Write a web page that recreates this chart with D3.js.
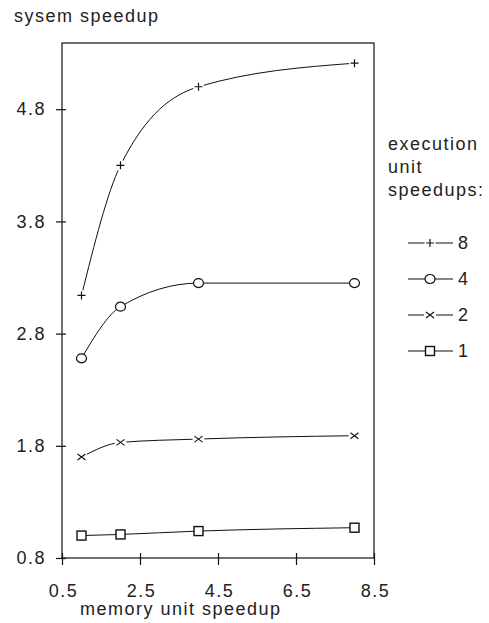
<!DOCTYPE html>
<html>
<head>
<meta charset="utf-8">
<script src="https://cdn.jsdelivr.net/npm/d3@7"></script>
<style>
  html, body { margin: 0; padding: 0; background: #fff; }
  svg { display: block; }
  text { font-family: "Liberation Sans", Arial, sans-serif; font-size: 18px; fill: #222; letter-spacing: 1.5px; }
</style>
</head>
<body>
<svg id="chart" width="489" height="623"></svg>
<script>
// ---- data ----
const memorySpeedups = [1, 2, 4, 8];
const seriesNames = ["8", "4", "2", "1"];
const speedup8 = [3.14, 4.30, 5.00, 5.21];
const speedup4 = [2.58, 3.04, 3.25, 3.25];
const speedup2 = [1.70, 1.83, 1.86, 1.89];
const speedup1 = [1.00, 1.01, 1.04, 1.07];
const xTicks = [0.5, 2.5, 4.5, 6.5, 8.5];
const yTicks = [0.8, 1.8, 2.8, 3.8, 4.8];
const markerTypes = ["plus", "circle", "cross", "square"];

const series = [speedup8, speedup4, speedup2, speedup1].map((vals, i) => ({
  name: seriesNames[i],
  marker: markerTypes[i],
  points: vals.map((v, j) => ({ x: memorySpeedups[j], y: v }))
}));

// ---- layout ----
const svg = d3.select("#chart");
const pLeft = 62, pRight = 374, pTop = 43, pBottom = 558;
const x = d3.scaleLinear().domain([0.5, 8.5]).range([pLeft, pRight]);
const y = d3.scaleLinear().domain([0.8, 5.39]).range([pBottom, pTop]);
const ink = "#111";

// frame
svg.append("rect")
  .attr("x", pLeft).attr("y", pTop)
  .attr("width", pRight - pLeft).attr("height", pBottom - pTop)
  .attr("fill", "none").attr("stroke", ink).attr("stroke-width", 1.2);

// x axis
const xAxis = svg.append("g").attr("transform", `translate(0,${pBottom})`)
  .call(d3.axisBottom(x).tickValues(xTicks).tickFormat(d3.format(".1f")).tickSize(7).tickPadding(19));
xAxis.select(".domain").remove();
xAxis.selectAll(".tick line").attr("y1", -5).attr("stroke", ink).attr("stroke-width", 1.2);
xAxis.selectAll(".tick text").attr("font-size", null).attr("font-family", null).attr("dx", 1).style("fill", "#222");

// y axis
const yAxis = svg.append("g").attr("transform", `translate(${pLeft},0)`)
  .call(d3.axisLeft(y).tickValues(yTicks).tickFormat(d3.format(".1f")).tickSize(6).tickPadding(10));
yAxis.select(".domain").remove();
yAxis.selectAll(".tick line").attr("x1", 4).attr("stroke", ink).attr("stroke-width", 1.2);
yAxis.selectAll(".tick text").attr("font-size", null).attr("font-family", null).style("fill", "#222");

// titles
svg.append("text").attr("x", 14).attr("y", 22).text("sysem speedup");
svg.append("text").attr("x", 80).attr("y", 615).text("memory unit speedup");

// lines
const line = d3.line().x(d => x(d.x)).y(d => y(d.y)).curve(d3.curveMonotoneX);
svg.append("g").selectAll("path").data(series).join("path")
  .attr("d", d => line(d.points))
  .attr("fill", "none").attr("stroke", ink).attr("stroke-width", 1);

// markers
function drawMarker(g, type) {
  if (type === "plus") {
    g.append("circle").attr("r", 5.5).attr("fill", "#fff");
    g.append("path").attr("d", "M-4,0H4M0,-4V4").attr("stroke", ink).attr("stroke-width", 1.2).attr("fill", "none");
  } else if (type === "cross") {
    g.append("circle").attr("r", 6).attr("fill", "#fff");
    g.append("path").attr("d", "M-4,-3L4,3M-4,3L4,-3").attr("stroke", ink).attr("stroke-width", 1.1).attr("fill", "none");
  } else if (type === "circle") {
    g.append("ellipse").attr("rx", 5).attr("ry", 4.5).attr("fill", "#fff").attr("stroke", ink).attr("stroke-width", 1.2);
  } else if (type === "square") {
    g.append("rect").attr("x", -4.5).attr("y", -4.5).attr("width", 9).attr("height", 9)
      .attr("fill", "#fff").attr("stroke", ink).attr("stroke-width", 1.4);
  }
}
series.forEach(s => {
  s.points.forEach(p => {
    const g = svg.append("g").attr("transform", `translate(${x(p.x)},${y(p.y)})`);
    drawMarker(g, s.marker);
  });
});

// legend
const legendTitle = ["execution", "unit", "speedups:"];
svg.append("g").selectAll("text").data(legendTitle).join("text")
  .attr("x", 388).attr("y", (d, i) => 150 + i * 23).text(d => d);

const leg = svg.append("g").selectAll("g").data(series).join("g")
  .attr("transform", (d, i) => `translate(0,${243 + i * 36})`);
leg.append("line").attr("x1", 408).attr("x2", 453).attr("y1", 0).attr("y2", 0)
  .attr("stroke", ink).attr("stroke-width", 1);
leg.each(function(d) {
  const g = d3.select(this).append("g").attr("transform", "translate(430,0)");
  drawMarker(g, d.marker);
});
leg.append("text").attr("x", 458).attr("y", 6).text(d => d.name);
</script>
</body>
</html>
